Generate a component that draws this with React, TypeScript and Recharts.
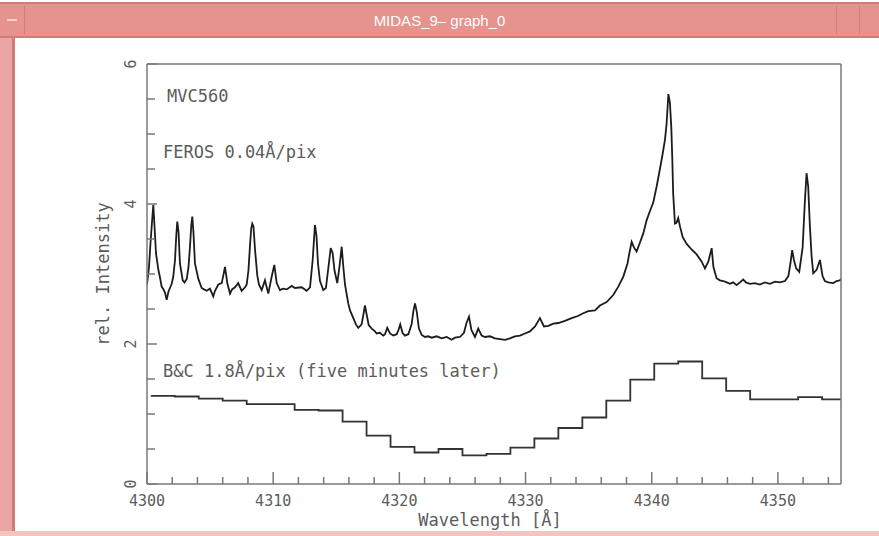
import { ComposedChart, Line, XAxis, YAxis } from 'recharts';

// FEROS spectrum (wavelength in Å, relative intensity)
const ferosWave = [
  4300.0, 4300.16, 4300.28, 4300.4, 4300.5, 4300.59, 4300.71, 4300.9, 4301.03, 4301.16,
  4301.31, 4301.43, 4301.56, 4301.7, 4301.82, 4301.96, 4302.08, 4302.22, 4302.32, 4302.4,
  4302.5, 4302.61, 4302.83, 4302.97, 4303.15, 4303.29, 4303.41, 4303.51, 4303.59, 4303.68,
  4303.8, 4304.07, 4304.33, 4304.52, 4304.73, 4304.99, 4305.25, 4305.39, 4305.65, 4305.92,
  4306.05, 4306.18, 4306.28, 4306.36, 4306.58, 4306.74, 4306.97, 4307.23, 4307.5, 4307.77,
  4307.9, 4308.04, 4308.16, 4308.26, 4308.34, 4308.44, 4308.56, 4308.74, 4308.87, 4309.09,
  4309.35, 4309.61, 4309.88, 4310.09, 4310.28, 4310.54, 4310.78, 4311.07, 4311.47, 4311.73,
  4312.26, 4312.65, 4312.92, 4313.13, 4313.31, 4313.43, 4313.55, 4313.71, 4313.97, 4314.18,
  4314.38, 4314.56, 4314.71, 4314.86, 4315.08, 4315.25, 4315.43, 4315.56, 4315.69, 4315.95,
  4316.09, 4316.35, 4316.56, 4316.74, 4317.01, 4317.15, 4317.27, 4317.43, 4317.57, 4317.81,
  4318.07, 4318.2, 4318.46, 4318.72, 4318.86, 4319.04, 4319.26, 4319.52, 4319.79, 4319.93,
  4320.07, 4320.25, 4320.44, 4320.71, 4320.97, 4321.12, 4321.24, 4321.38, 4321.55, 4321.77,
  4322.03, 4322.29, 4322.56, 4322.96, 4323.35, 4323.75, 4324.14, 4324.41, 4324.8, 4325.12,
  4325.32, 4325.52, 4325.71, 4325.99, 4326.25, 4326.52, 4326.78, 4327.18, 4327.58, 4327.97,
  4328.37, 4328.76, 4329.16, 4329.56, 4329.95, 4330.35, 4330.75, 4331.14, 4331.46, 4331.8,
  4332.2, 4332.59, 4333.12, 4333.65, 4334.15, 4334.57, 4334.97, 4335.5, 4335.9, 4336.43,
  4336.95, 4337.35, 4337.74, 4338.08, 4338.23, 4338.41, 4338.59, 4338.8, 4339.07, 4339.33,
  4339.6, 4339.86, 4340.12, 4340.39, 4340.65, 4340.85, 4341.05, 4341.18, 4341.32, 4341.44,
  4341.55, 4341.63, 4341.7, 4341.84, 4341.96, 4342.1, 4342.24, 4342.45, 4342.77, 4343.16,
  4343.56, 4343.95, 4344.22, 4344.49, 4344.75, 4344.89, 4345.14, 4345.4, 4345.67, 4345.94,
  4346.2, 4346.46, 4346.73, 4346.99, 4347.25, 4347.47, 4347.78, 4348.18, 4348.57, 4348.97,
  4349.37, 4349.76, 4350.16, 4350.56, 4350.83, 4350.99, 4351.13, 4351.27, 4351.45, 4351.69,
  4351.96, 4352.14, 4352.27, 4352.4, 4352.53, 4352.67, 4352.8, 4353.07, 4353.33, 4353.54,
  4353.72, 4353.99, 4354.38, 4354.65, 4354.92, 4355.0,
];
const ferosFlux = [
  2.85, 3.1, 3.45, 3.75, 3.99, 3.7, 3.3, 3.06, 2.95, 2.82,
  2.78, 2.73, 2.63, 2.75, 2.8, 2.86, 2.96, 3.2, 3.55, 3.75,
  3.6, 3.15, 2.91, 2.88, 2.93, 3.1, 3.4, 3.7, 3.82, 3.6,
  3.15, 2.93, 2.8, 2.78, 2.76, 2.79, 2.68, 2.76, 2.85, 2.87,
  2.98, 3.1, 2.98, 2.87, 2.72, 2.78, 2.81, 2.87, 2.76, 2.81,
  2.85, 3.05, 3.4, 3.65, 3.72, 3.68, 3.35, 2.98, 2.85, 2.77,
  2.91, 2.72, 2.96, 3.13, 2.87, 2.77, 2.79, 2.78, 2.83, 2.8,
  2.81, 2.76, 2.81, 3.2, 3.7, 3.55, 3.15, 2.9, 2.77, 2.8,
  3.1, 3.37, 3.3, 3.05, 2.87, 3.1, 3.39, 3.1, 2.85, 2.58,
  2.48, 2.37, 2.28, 2.23, 2.28, 2.42, 2.55, 2.4, 2.27, 2.22,
  2.18, 2.15, 2.16, 2.12, 2.14, 2.23, 2.15, 2.12, 2.14, 2.2,
  2.28, 2.16, 2.12, 2.14, 2.28, 2.48, 2.58, 2.46, 2.22, 2.13,
  2.1, 2.11, 2.09, 2.11, 2.08, 2.1, 2.06, 2.09, 2.1, 2.16,
  2.3, 2.39, 2.2, 2.1, 2.22, 2.12, 2.1, 2.11, 2.08, 2.07,
  2.06, 2.08, 2.11, 2.12, 2.15, 2.18, 2.25, 2.37, 2.25, 2.26,
  2.29, 2.3, 2.33, 2.37, 2.4, 2.44, 2.47, 2.48, 2.55, 2.6,
  2.7, 2.82, 2.96, 3.15, 3.3, 3.46, 3.38, 3.32, 3.45, 3.58,
  3.77, 3.9, 4.02, 4.25, 4.5, 4.7, 4.92, 5.15, 5.57, 5.45,
  5.1, 4.65, 4.15, 3.72, 3.73, 3.8, 3.68, 3.53, 3.43, 3.35,
  3.28, 3.18, 3.08, 3.18, 3.37, 3.1, 2.94, 2.91, 2.9, 2.88,
  2.86, 2.88, 2.84, 2.88, 2.92, 2.88, 2.86, 2.87, 2.85, 2.88,
  2.86, 2.89, 2.88, 2.9, 2.97, 3.15, 3.34, 3.2, 3.08, 3.03,
  3.38, 4.05, 4.44, 4.25, 3.7, 3.25, 3.01, 3.06, 3.2, 2.97,
  2.9, 2.88, 2.87, 2.9, 2.91, 2.93,
];

// B&C spectrum, 1.9 Å bins (bin start wavelength, value held to the next bin)
const bcWave = [
  4300.3, 4302.2, 4304.1, 4306.0, 4307.9, 4309.8, 4311.7, 4313.6, 4315.5, 4317.4,
  4319.3, 4321.2, 4323.1, 4325.0, 4326.9, 4328.8, 4330.7, 4332.6, 4334.5, 4336.4,
  4338.3, 4340.2, 4342.1, 4344.0, 4345.9, 4347.8, 4349.7, 4351.6, 4353.5, 4355.0,
];
const bcFlux = [
  1.26, 1.25, 1.22, 1.19, 1.14, 1.14, 1.06, 1.05, 0.89, 0.69,
  0.53, 0.45, 0.5, 0.41, 0.43, 0.52, 0.65, 0.8, 0.95, 1.19,
  1.49, 1.72, 1.75, 1.51, 1.33, 1.21, 1.21, 1.24, 1.21, 1.21,
];

const waveTicks = [
  4300, 4302, 4304, 4306, 4308, 4310, 4312, 4314, 4316, 4318, 4320, 4322, 4324, 4326,
  4328, 4330, 4332, 4334, 4336, 4338, 4340, 4342, 4344, 4346, 4348, 4350, 4352, 4354,
];
const waveLabels = [4300, 4310, 4320, 4330, 4340, 4350];
const fluxTicks = [0, 0.5, 1, 1.5, 2, 2.5, 3, 3.5, 4, 4.5, 5, 5.5, 6];
const fluxLabels = [0, 2, 4, 6];

const ferosData = ferosWave.map((w, i) => ({ wave: w, flux: ferosFlux[i] }));
const bcData = bcWave.map((w, i) => ({ wave: w, flux: bcFlux[i] }));

const AXIS = '#787878';
const INK = '#5c5c5c';
const MONO = '"DejaVu Sans Mono", monospace';
const PINK = '#e6928d';
const PINK_DARK = '#cf7b77';

// axes are drawn with zero tick size, the custom ticks draw inward marks themselves
function BottomTick({ x, y, payload }: any) {
  const major = waveLabels.includes(payload.value);
  return (
    <g>
      <line x1={x} x2={x} y1={y} y2={y - (major ? 12 : 7)} stroke={AXIS} strokeWidth={1.5} />
      {major && (
        <text x={x} y={y + 22} textAnchor="middle" fontFamily={MONO} fontSize={15} fill={INK}>
          {payload.value}
        </text>
      )}
    </g>
  );
}

function TopTick({ x, y, payload }: any) {
  const major = waveLabels.includes(payload.value);
  return <line x1={x} x2={x} y1={y} y2={y + (major ? 12 : 8)} stroke={AXIS} strokeWidth={1.5} />;
}

function LeftTick({ x, y, payload }: any) {
  const major = fluxLabels.includes(payload.value);
  return (
    <g>
      <line x1={x} x2={x + (major ? 10 : 8)} y1={y} y2={y} stroke={AXIS} strokeWidth={1.5} />
      {major && (
        <text
          x={x - 16}
          y={y}
          transform={`rotate(-90 ${x - 16} ${y})`}
          textAnchor="middle"
          dominantBaseline="central"
          fontFamily={MONO}
          fontSize={15}
          fill={INK}
        >
          {payload.value}
        </text>
      )}
    </g>
  );
}

function RightTick({ x, y }: any) {
  return <line x1={x} x2={x - 10} y1={y} y2={y} stroke={AXIS} strokeWidth={1.5} />;
}

function WindowFrame() {
  return (
    <>
      {/* title bar */}
      <div style={{ position: 'absolute', left: 0, top: 2, width: 879, height: 36, background: PINK, borderTop: `2px solid ${PINK_DARK}`, borderBottom: `2px solid ${PINK_DARK}`, boxSizing: 'border-box' }} />
      <div style={{ position: 'absolute', left: 0, top: 6, width: 24, height: 28, borderRight: `1px solid ${PINK_DARK}` }}>
        <div style={{ position: 'absolute', left: 7, top: 13, width: 10, height: 2, background: '#f6d0cd' }} />
      </div>
      <div style={{ position: 'absolute', left: 836, top: 6, width: 22, height: 28, borderLeft: `1px solid ${PINK_DARK}`, borderRight: `1px solid ${PINK_DARK}` }} />
      <div
        style={{
          position: 'absolute',
          left: 0,
          top: 10,
          width: 879,
          textAlign: 'center',
          color: '#fff',
          fontFamily: '"Liberation Sans", sans-serif',
          fontSize: 15,
          lineHeight: '22px',
        }}
      >
        MIDAS_9– graph_0
      </div>
      {/* left border and bottom edge */}
      <div style={{ position: 'absolute', left: 0, top: 38, width: 15, height: 498, background: '#e9a6a2', borderRight: `3px solid ${PINK_DARK}`, boxSizing: 'border-box' }} />
      <div style={{ position: 'absolute', left: 0, top: 531, width: 879, height: 5, background: '#f3c4c0' }} />
    </>
  );
}

export default function App() {
  return (
    <div style={{ position: 'absolute', left: 0, top: 0, width: 879, height: 536, background: '#fff', overflow: 'hidden' }}>
      <WindowFrame />
      <div style={{ position: 'absolute', left: 0, top: 0 }}>
        <ComposedChart width={879} height={536} margin={{ top: 54, right: 28, bottom: 22, left: 117 }}>
          <XAxis
            xAxisId="bottom"
            dataKey="wave"
            type="number"
            domain={[4300, 4355]}
            allowDataOverflow
            ticks={waveTicks}
            interval={0}
            height={30}
            tickSize={0}
            tickMargin={0}
            tickLine={false}
            axisLine={{ stroke: AXIS, strokeWidth: 1.5 }}
            tick={BottomTick}
          />
          <XAxis
            xAxisId="top"
            orientation="top"
            type="number"
            domain={[4300, 4355]}
            allowDataOverflow
            ticks={waveTicks}
            interval={0}
            height={10}
            tickSize={0}
            tickMargin={0}
            tickLine={false}
            axisLine={{ stroke: AXIS, strokeWidth: 1.5 }}
            tick={TopTick}
          />
          <YAxis
            yAxisId="left"
            type="number"
            domain={[0, 6]}
            ticks={fluxTicks}
            interval={0}
            width={30}
            tickSize={0}
            tickMargin={0}
            tickLine={false}
            axisLine={{ stroke: AXIS, strokeWidth: 1.5 }}
            tick={LeftTick}
          />
          <YAxis
            yAxisId="right"
            orientation="right"
            type="number"
            domain={[0, 6]}
            ticks={fluxTicks}
            interval={0}
            width={10}
            tickSize={0}
            tickMargin={0}
            tickLine={false}
            axisLine={{ stroke: AXIS, strokeWidth: 1.5 }}
            tick={RightTick}
          />
          <Line
            data={bcData}
            xAxisId="bottom"
            yAxisId="left"
            dataKey="flux"
            type="stepAfter"
            stroke="#333"
            strokeWidth={1.8}
            dot={false}
            isAnimationActive={false}
          />
          <Line
            data={ferosData}
            xAxisId="bottom"
            yAxisId="left"
            dataKey="flux"
            type="linear"
            stroke="#1c1c1c"
            strokeWidth={1.8}
            dot={false}
            isAnimationActive={false}
          />
        </ComposedChart>
      </div>
      {/* annotations and axis titles */}
      <svg width={879} height={536} style={{ position: 'absolute', left: 0, top: 0, pointerEvents: 'none' }}>
        <g fontFamily={MONO} fill={INK} fontSize={17}>
          <text x={167} y={102}>MVC560</text>
          <text x={163} y={158}>FEROS 0.04Å/pix</text>
          <text x={163} y={377}>B&amp;C 1.8Å/pix (five minutes later)</text>
          <text x={490} y={526} textAnchor="middle">Wavelength [Å]</text>
          <text x={103} y={274} transform="rotate(-90 103 274)" textAnchor="middle" dominantBaseline="central">
            rel. Intensity
          </text>
        </g>
      </svg>
    </div>
  );
}
